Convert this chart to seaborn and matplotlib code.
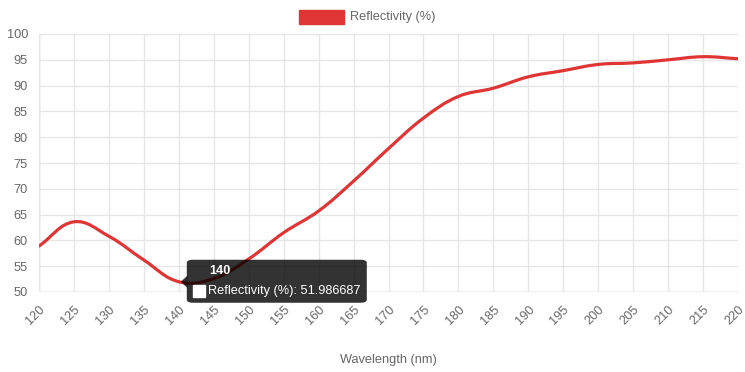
import numpy as np
import pandas as pd
import matplotlib
matplotlib.use('Agg')
import matplotlib.pyplot as plt
import seaborn as sns
from matplotlib.patches import FancyBboxPatch, Rectangle, Polygon, PathPatch
from matplotlib.path import Path

wavelength = [120, 125, 130, 135, 140, 145, 150, 155, 160, 165, 170,
              175, 180, 185, 190, 195, 200, 205, 210, 215, 220]
reflectivity = [58.9, 63.6, 60.8, 56.2, 51.986687, 52.6, 56.4, 61.5, 65.7, 71.5, 77.8,
                83.7, 87.9, 89.5, 91.7, 92.9, 94.1, 94.4, 95.0, 95.6, 95.2]
x_ticks = list(range(120, 221, 5))
y_ticks = list(range(50, 101, 5))

series_name = 'Reflectivity (%)'
tip_index = 4

df = pd.DataFrame({'Wavelength': wavelength, 'Reflectivity': reflectivity})

sns.set_style('white')
plt.rcParams['font.family'] = ['Liberation Sans', 'DejaVu Sans']
grey = '#666666'
red = '#e03535'

fig = plt.figure(figsize=(7.45, 3.72), dpi=100)
ax = fig.add_axes([39 / 745, 80 / 372, 699 / 745, 258 / 372])

sns.lineplot(data=df, x='Wavelength', y='Reflectivity', ax=ax, color=red,
             linewidth=2.3, legend=False)

ax.set_xlim(120, 220)
ax.set_ylim(50, 100)

# chart.js style smoothing (tension 0.4) of the same line
line = ax.lines[0]
line.set_visible(False)
pts = ax.transData.transform(np.column_stack([wavelength, reflectivity]))
n = len(pts)
verts = [pts[0]]
codes = [Path.MOVETO]
cps = []
for i in range(n):
    p0 = pts[max(i - 1, 0)]
    p1 = pts[i]
    p2 = pts[min(i + 1, n - 1)]
    d01 = np.hypot(*(p1 - p0))
    d12 = np.hypot(*(p2 - p1))
    tot = d01 + d12 if d01 + d12 > 0 else 1
    fa = 0.4 * d01 / tot
    fb = 0.4 * d12 / tot
    cps.append((p1 - fa * (p2 - p0), p1 + fb * (p2 - p0)))
for i in range(1, n):
    verts += [cps[i - 1][1], cps[i][0], pts[i]]
    codes += [Path.CURVE4] * 3
verts = ax.transData.inverted().transform(np.array(verts))
ax.add_patch(PathPatch(Path(verts, codes), facecolor='none', edgecolor=red,
                       linewidth=2.3, capstyle='round', joinstyle='round', zorder=3))

ax.set_xticks(x_ticks)
ax.set_yticks(y_ticks)
ax.set_xticklabels([str(t) for t in x_ticks], rotation=45, ha='right',
                   rotation_mode='anchor', fontsize=9.2, color=grey)
ax.set_yticklabels([str(t) for t in y_ticks], fontsize=9.2, color=grey)
ax.tick_params(axis='both', length=6, color='#e0e0e0', width=1, pad=2)
ax.grid(True, color='#e6e6e6', linewidth=1)
for s in ax.spines.values():
    s.set_visible(False)
ax.axhline(50, color='#d0d0d0', linewidth=1, zorder=0)
ax.axvline(120, color='#d0d0d0', linewidth=1, zorder=0)
ax.set_xlabel('')
ax.set_ylabel('')
fig.text(388 / 745, 1 - 360 / 372, 'Wavelength (nm)', fontsize=9.2, color=grey,
         ha='center', va='center')

# legend box like chart.js
fig.patches.append(Rectangle((299 / 745, 1 - 24 / 372), 45 / 745, 14 / 372,
                             transform=fig.transFigure, facecolor=red,
                             edgecolor=red, figure=fig))
fig.text(350 / 745, 1 - 17 / 372, series_name, fontsize=9.2, color=grey,
         va='center', ha='left')

# tooltip at 140
tx, ty = wavelength[tip_index], reflectivity[tip_index]
px, py = ax.transData.transform((tx, ty))
inv = fig.transFigure.inverted()
fx, fy = inv.transform((px, py))
bx0 = fx + 8 / 745
bw = 180 / 745
bh = 43 / 372
by0 = fy - 21 / 372
box = FancyBboxPatch((bx0, by0), bw, bh, boxstyle='round,pad=0,rounding_size=0.008',
                     transform=fig.transFigure, facecolor='#000000', alpha=0.8,
                     edgecolor='none', figure=fig, zorder=10)
fig.patches.append(box)
caret = Polygon([(fx + 2 / 745, fy), (bx0 + 0.5 / 745, fy + 6 / 372), (bx0 + 0.5 / 745, fy - 6 / 372)],
                closed=True, transform=fig.transFigure, facecolor='#000000', alpha=0.8,
                edgecolor='none', figure=fig, zorder=10)
fig.patches.append(caret)
fig.text(bx0 + 22 / 745, by0 + bh - 11 / 372, str(tx), fontsize=9.2, color='white',
         fontweight='bold', va='center', ha='left', zorder=11)
fig.patches.append(Rectangle((bx0 + 6 / 745, by0 + 6 / 372), 12 / 745, 12 / 372,
                             transform=fig.transFigure, facecolor='white',
                             edgecolor='white', figure=fig, zorder=11))
fig.text(bx0 + 21 / 745, by0 + 12 / 372, f'{series_name}: {ty:.6f}', fontsize=9.2,
         color='white', va='center', ha='left', zorder=11)

fig.savefig('out.png', dpi=100)
